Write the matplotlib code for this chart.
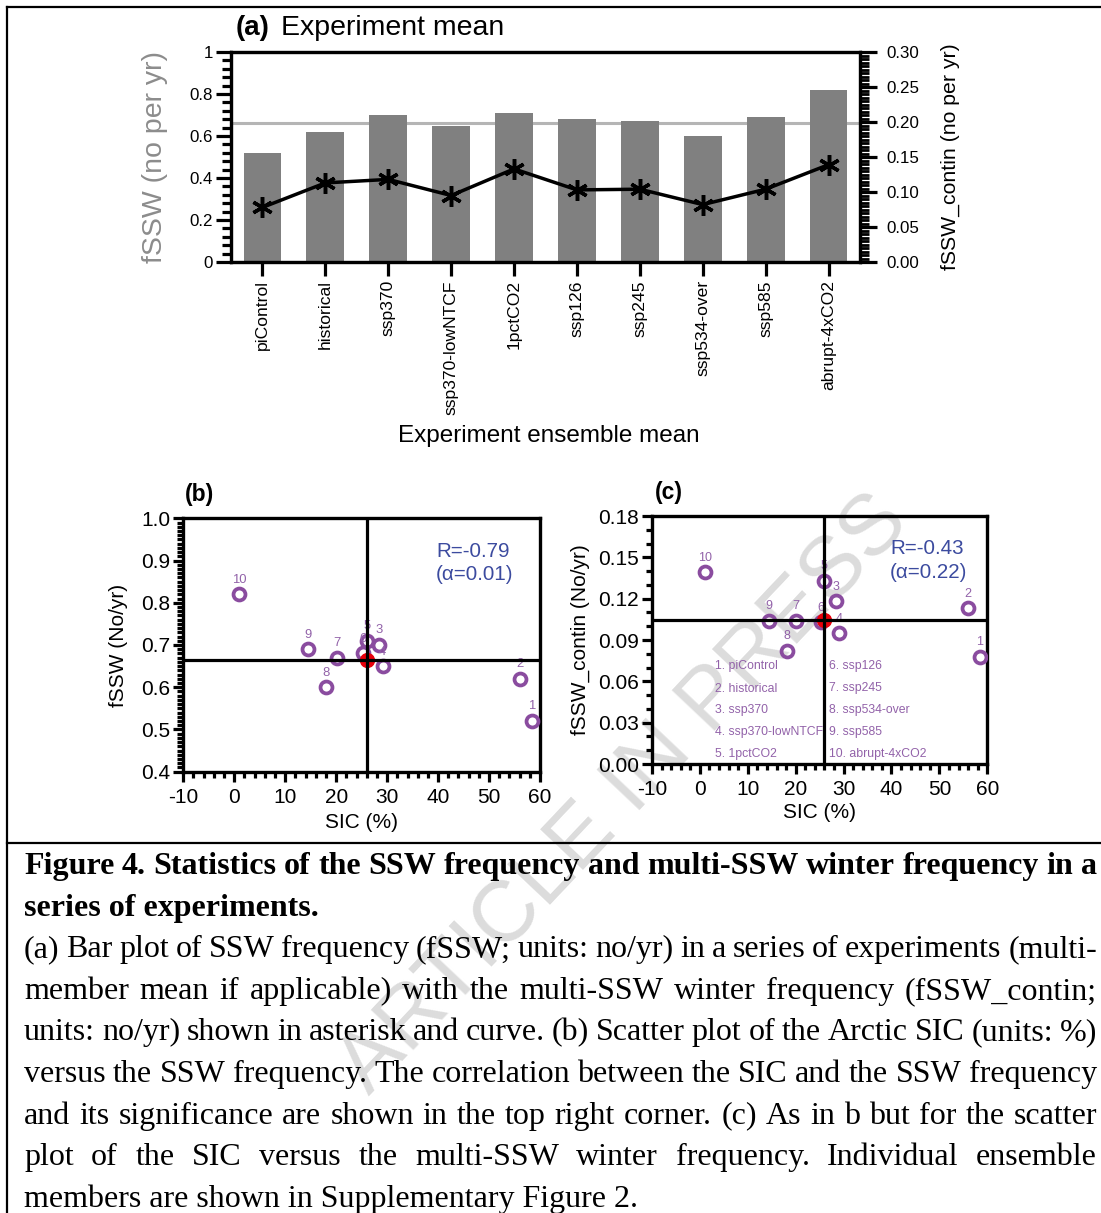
import numpy as np
import matplotlib
matplotlib.use("Agg")
import matplotlib.pyplot as plt
from matplotlib.lines import Line2D
from matplotlib.ticker import MultipleLocator

# --- Data ---
experiments = ["piControl", "historical", "ssp370", "ssp370-lowNTCF", "1pctCO2",
               "ssp126", "ssp245", "ssp534-over", "ssp585", "abrupt-4xCO2"]
fssw = [0.52, 0.62, 0.70, 0.65, 0.71, 0.68, 0.67, 0.60, 0.69, 0.82]
fssw_contin = [0.078, 0.113, 0.118, 0.095, 0.133, 0.103, 0.104, 0.082, 0.104, 0.139]
sic = [58.4, 56.0, 28.4, 29.1, 26.0, 25.2, 20.1, 18.1, 14.4, 1.0]

# reference (ensemble) values used for the cross-hair lines
fssw_ref = 0.664
contin_ref = 0.1045
sic_ref = 26.0

corr_b = ("R=-0.79", "(\u03b1=0.01)")
corr_c = ("R=-0.43", "(\u03b1=0.22)")

left_ticks = ["0", "0.2", "0.4", "0.6", "0.8", "1"]
right_ticks = ["0.00", "0.05", "0.10", "0.15", "0.20", "0.25", "0.30"]
b_yticks = ["0.4", "0.5", "0.6", "0.7", "0.8", "0.9", "1.0"]
c_yticks = ["0.00", "0.03", "0.06", "0.09", "0.12", "0.15", "0.18"]
sic_ticks = ["-10", "0", "10", "20", "30", "40", "50", "60"]

caption_lines = [
    ("Figure 4. Statistics of the SSW frequency and multi-SSW winter frequency in a", True, "bold"),
    ("series of experiments.", False, "bold"),
    ("(a) Bar plot of SSW frequency (fSSW; units: no/yr) in a series of experiments (multi-", True, "normal"),
    ("member mean if applicable) with the multi-SSW winter frequency (fSSW_contin;", True, "normal"),
    ("units: no/yr) shown in asterisk and curve. (b) Scatter plot of the Arctic SIC (units: %)", True, "normal"),
    ("versus the SSW frequency. The correlation between the SIC and the SSW frequency", True, "normal"),
    ("and its significance are shown in the top right corner. (c) As in b but for the scatter", True, "normal"),
    ("plot of the SIC versus the multi-SSW winter frequency. Individual ensemble", True, "normal"),
    ("members are shown in Supplementary Figure 2.", False, "normal"),
]

W, H = 1101, 1213
PURPLE = "#8a4c9f"
PURPLE_TXT = "#9262a9"
BLUE = "#3c4b9f"

plt.rcParams["font.family"] = ["Liberation Sans", "DejaVu Sans"]
plt.rcParams["axes.unicode_minus"] = False


def fx(x):
    return x / W


def fy(y):
    return 1 - y / H


def box(left, top, right, bottom):
    return [left / W, 1 - bottom / H, (right - left) / W, (bottom - top) / H]


def style_box(ax, lw=2.3):
    ax.set_facecolor("none")
    for s in ax.spines.values():
        s.set_linewidth(lw)


# --- Panel (a): bars + asterisk curve ---
def panel_a(fig):
    ax = fig.add_axes(box(231, 52, 860, 262))
    style_box(ax)
    x = np.arange(len(experiments))
    ax.axhline(fssw_ref, color="#b5b5b5", lw=2.2, zorder=0.5)
    ax.bar(x, fssw, width=0.6, color="#808080", zorder=1)
    ax.set_xlim(-0.5, len(experiments) - 0.5)
    ax.set_ylim(0, 1)
    ax.set_xticks(x)
    ax.set_xticklabels(experiments, rotation=90, fontsize=12.6, va="top", ha="center")
    ax.tick_params(axis="x", length=10, width=2.3, pad=3)
    ax.set_yticks(np.arange(0, 1.01, 0.2))
    ax.set_yticklabels(left_ticks, fontsize=12.2)
    ax.yaxis.set_minor_locator(MultipleLocator(0.04))
    ax.tick_params(axis="y", which="major", length=11, width=2.3, pad=2)
    ax.tick_params(axis="y", which="minor", length=6.5, width=2.3)

    ax2 = ax.twinx()
    ax2.set_facecolor("none")
    ax2.plot(x, fssw_contin, color="black", lw=2.5, marker=(6, 2, 0),
             ms=15, mew=2.5, zorder=3)
    ax2.set_ylim(0, 0.30)
    ax2.set_yticks(np.arange(0, 0.301, 0.05))
    ax2.set_yticklabels(right_ticks, fontsize=12.2)
    ax2.yaxis.set_minor_locator(MultipleLocator(0.005))
    ax2.tick_params(axis="y", which="major", length=12, width=2.3, pad=7)
    ax2.tick_params(axis="y", which="minor", length=6.5, width=2.0)
    for s in ax2.spines.values():
        s.set_linewidth(2.3)

    fig.text(fx(236), fy(28), "(a)", fontsize=20, fontweight="bold", va="center")
    fig.text(fx(281), fy(28), "Experiment mean", fontsize=20.5, va="center")
    fig.text(fx(155), fy(157), "fSSW (no per yr)", fontsize=20.5, color="#8c8c8c",
             rotation=90, ha="center", va="center")
    fig.text(fx(950), fy(157), "fSSW_contin (no per yr)", fontsize=15.3,
             rotation=90, ha="center", va="center")
    fig.text(fx(549), fy(436), "Experiment ensemble mean", fontsize=17.5,
             ha="center", va="center")


# --- Panels (b) and (c): SIC scatter ---
def scatter_panel(fig, rect, yvals, yref, ylim, yticks, ylabels, yminor,
                  ylabel, corr, label_size, tag, tag_xy, ylabel_x, xlabel_y,
                  corr_xy):
    ax = fig.add_axes(box(*rect))
    style_box(ax, 2.4)
    ax.set_xlim(-10, 60)
    ax.set_ylim(*ylim)
    ax.set_xticks(np.arange(-10, 61, 10))
    ax.set_xticklabels(sic_ticks, fontsize=15)
    ax.set_yticks(yticks)
    ax.set_yticklabels(ylabels, fontsize=15)
    ax.xaxis.set_minor_locator(MultipleLocator(2))
    ax.yaxis.set_minor_locator(MultipleLocator(yminor))
    ax.tick_params(which="major", length=7.5, width=2.3, pad=2)
    ax.tick_params(which="minor", length=4.5, width=2.3)
    ax.tick_params(axis="x", pad=4)

    ax.plot(sic, yvals, "o", ms=8.6, mfc="none", mec=PURPLE, mew=2.7, zorder=3)
    ax.plot([sic_ref], [yref], "o", ms=10, color="#e8000b", zorder=4)
    ax.axhline(yref, color="black", lw=2.3, zorder=5)
    ax.axvline(sic_ref, color="black", lw=2.3, zorder=5)
    for i, (xv, yv) in enumerate(zip(sic, yvals)):
        ax.annotate(str(i + 1), (xv, yv), xytext=(0, 10.5), textcoords="offset points",
                    ha="center", va="center", fontsize=label_size, color=PURPLE_TXT,
                    zorder=3)

    fig.text(fx(tag_xy[0]), fy(tag_xy[1]), tag, fontsize=16.5, fontweight="bold",
             va="center")
    cx = (rect[0] + rect[2]) / 2
    cy = (rect[1] + rect[3]) / 2
    fig.text(fx(ylabel_x), fy(cy), ylabel, fontsize=15, rotation=90,
             ha="center", va="center")
    fig.text(fx(cx), fy(xlabel_y), "SIC (%)", fontsize=15, ha="center", va="center")
    fig.text(fx(corr_xy[0]), fy(corr_xy[1]), corr[0], fontsize=14.8, color=BLUE,
             va="center")
    fig.text(fx(corr_xy[0]), fy(corr_xy[1] + 24), corr[1], fontsize=14.8, color=BLUE,
             va="center")
    return ax


def legend_c(fig):
    rows = [666.5, 688.5, 710, 731.5, 753.5]
    for i, name in enumerate(experiments):
        col_x = 715 if i < 5 else 829
        fig.text(fx(col_x), fy(rows[i % 5]), f"{i + 1}. {name}", fontsize=8.8,
                 color=PURPLE_TXT, va="center")


# --- Caption ---
def draw_caption(fig, x0=24, x1=1097, base=874, step=41.6, size=23):
    renderer = fig.canvas.get_renderer()
    for i, (line, justify, weight) in enumerate(caption_lines):
        y = fy(base + i * step)
        kw = dict(fontsize=size, fontweight=weight, va="baseline",
                  family=["Liberation Serif", "DejaVu Serif"])
        if not justify:
            fig.text(fx(x0), y, line, **kw)
            continue
        words = line.split(" ")
        texts = [fig.text(0, y, w, **kw) for w in words]
        widths = [t.get_window_extent(renderer).width for t in texts]
        gap = (x1 - x0 - sum(widths)) / (len(words) - 1)
        x = x0
        for t, w in zip(texts, widths):
            t.set_x(fx(x))
            x += w + gap


def main():
    fig = plt.figure(figsize=(W / 100, H / 100), dpi=100)

    # watermark sits underneath everything
    fig.text(fx(624), fy(795), "ARTICLE IN PRESS", fontsize=62, color="#dcdcdc",
             rotation=46.6, rotation_mode="anchor", ha="center", va="center",
             zorder=-1)

    panel_a(fig)
    scatter_panel(fig, (183.3, 518.3, 540, 771.7), fssw, fssw_ref, (0.4, 1.0),
                  np.arange(0.4, 1.001, 0.1), b_yticks, 0.01, "fSSW (No/yr)", corr_b,
                  9.4, "(b)", (185, 495), 118, 823, (436, 551))
    scatter_panel(fig, (652, 516, 987.3, 764), fssw_contin, contin_ref, (0, 0.18),
                  np.arange(0, 0.181, 0.03), c_yticks, 0.01, "fSSW_contin (No/yr)",
                  corr_c, 9.0, "(c)", (655, 493), 580, 813, (890, 548))
    legend_c(fig)

    # frame around figure and caption
    for xs, ys in [([7, W], [7, 7]), ([7, 7], [7, H]), ([7, W], [843, 843])]:
        fig.add_artist(Line2D([fx(v) for v in xs], [fy(v) for v in ys],
                              transform=fig.transFigure, color="black", lw=1.6))

    draw_caption(fig)
    fig.savefig("out.png", dpi=100)


if __name__ == "__main__":
    main()
